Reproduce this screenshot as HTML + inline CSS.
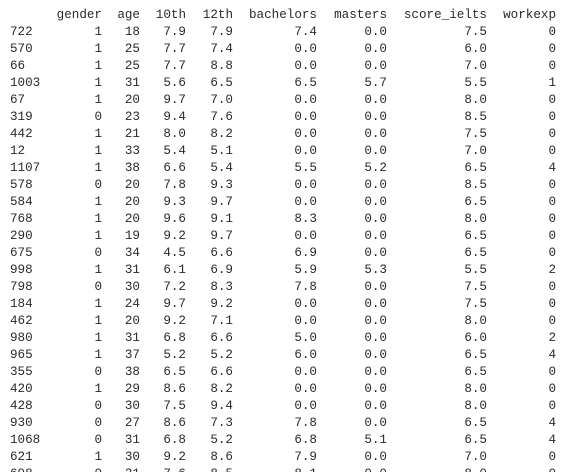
<!DOCTYPE html>
<html><head><meta charset="utf-8">
<style>
html,body{margin:0;padding:0;background:#fff;}
#tbl{position:relative;width:574px;height:472px;overflow:hidden;font-family:"Liberation Mono","DejaVu Sans Mono",monospace;font-size:12.6px;color:#2a2a2a;}
.c{position:absolute;width:90px;text-align:right;height:17px;line-height:17px;white-space:pre;}
.i{position:absolute;left:10px;height:17px;line-height:17px;white-space:pre;}
</style></head>
<body>
<div id="tbl"></div>
<script>
const headers=["gender","age","10th","12th","bachelors","masters","score_ielts","workexp"];
const idx=[722,570,66,1003,67,319,442,12,1107,578,584,768,290,675,998,798,184,462,980,965,355,420,428,930,1068,621,698];
const gender=[1,1,1,1,1,0,1,1,1,0,1,1,1,0,1,0,1,1,1,1,0,1,0,0,0,1,0];
const age=[18,25,25,31,20,23,21,33,38,20,20,20,19,34,31,30,24,20,31,37,38,29,30,27,31,30,31];
const tenth=["7.9","7.7","7.7","5.6","9.7","9.4","8.0","5.4","6.6","7.8","9.3","9.6","9.2","4.5","6.1","7.2","9.7","9.2","6.8","5.2","6.5","8.6","7.5","8.6","6.8","9.2","7.6"];
const twelfth=["7.9","7.4","8.8","6.5","7.0","7.6","8.2","5.1","5.4","9.3","9.7","9.1","9.7","6.6","6.9","8.3","9.2","7.1","6.6","5.2","6.6","8.2","9.4","7.3","5.2","8.6","8.5"];
const bachelors=["7.4","0.0","0.0","6.5","0.0","0.0","0.0","0.0","5.5","0.0","0.0","8.3","0.0","6.9","5.9","7.8","0.0","0.0","5.0","6.0","0.0","0.0","0.0","7.8","6.8","7.9","8.1"];
const masters=["0.0","0.0","0.0","5.7","0.0","0.0","0.0","0.0","5.2","0.0","0.0","0.0","0.0","0.0","5.3","0.0","0.0","0.0","0.0","0.0","0.0","0.0","0.0","0.0","5.1","0.0","0.0"];
const ielts=["7.5","6.0","7.0","5.5","8.0","8.5","7.5","7.0","6.5","8.5","6.5","8.0","6.5","6.5","5.5","7.5","7.5","8.0","6.0","6.5","6.5","8.0","8.0","6.5","6.5","7.0","8.0"];
const workexp=[0,0,0,1,0,0,0,0,4,0,0,0,0,0,2,0,0,0,2,4,0,0,0,4,4,0,0];
const rightEdges=[102,140,186,233,317,387,487,556];
const cols=[gender,age,tenth,twelfth,bachelors,masters,ielts,workexp];
const colNames=["gender","age","10th","12th","bachelors","masters","score-ielts","workexp"];
const tbl=document.getElementById('tbl');
function cell(txt,right,top,name){
  const d=document.createElement('div');
  d.className='c';
  d.style.left=(right-90)+'px';
  d.style.top=top+'px';
  d.textContent=txt;
  
  
  tbl.appendChild(d);
}
headers.forEach((h,j)=>cell(h,rightEdges[j],7,'header-'+colNames[j]));
idx.forEach((id,r)=>{
  const top=24+17*r;
  const d=document.createElement('div');
  d.className='i';
  d.style.top=top+'px';
  d.textContent=String(id);
  
  
  tbl.appendChild(d);
  cols.forEach((col,j)=>cell(String(col[r]),rightEdges[j],top,colNames[j]+'-cell'));
});
</script>
</body></html>
